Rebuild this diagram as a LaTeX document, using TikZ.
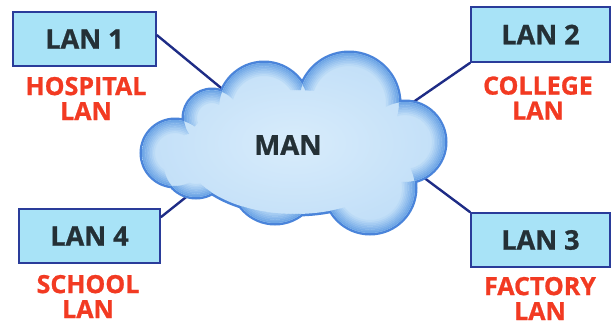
\documentclass[tikz,border=0pt]{standalone}
\usepackage{fontspec}
\setmainfont{Open Sans}[BoldFeatures={FakeBold=0.9}]
\definecolor{boxfill}{HTML}{A8E3F7}
\definecolor{boxline}{HTML}{2A3C9A}
\definecolor{wire}{HTML}{1E2C86}
\definecolor{labelred}{HTML}{F23A22}
\definecolor{darktext}{HTML}{243036}
\definecolor{cloudline}{HTML}{4A84DA}
\definecolor{cloudedge}{HTML}{6EA6E6}
\definecolor{cloudbase}{HTML}{C2DFF8}
\definecolor{cloudcore}{HTML}{D8ECFB}
\tikzset{
  lanbox/.style={draw=boxline, fill=boxfill, line width=1.5pt, inner sep=0pt,
    text=darktext, font=\fontsize{27}{27}\selectfont\bfseries},
  lanlabel/.style={text=labelred, align=center, inner sep=0pt,
    font=\fontsize{25}{25}\selectfont\bfseries},
  link/.style={draw=wire, line width=2.4pt},
  glowscope/.style={even odd rule}
}
% puffs of the cloud
\def\puffA{(175,153) circle[radius=33pt]}
\def\puffB{(212,118) circle[radius=28pt]}
\def\puffC{(264,108) circle[radius=45pt]}
\def\puffD{(349,103) circle[radius=50pt]}
\def\puffE{(405,142) circle[radius=40pt]}
\def\puffF{(370,188) circle[radius=45pt]}
\def\puffG{(275,180) circle[radius=43pt]}
\def\puffH{(196,165) circle[radius=32pt]}
\def\puffcore{(295,152) ellipse[x radius=110pt, y radius=62pt]}
\newcommand\cloudshape{\puffA \puffB \puffC \puffD \puffE \puffF \puffG \puffH \puffcore}
% keep drawing outside one puff (used in an even-odd scope)
\newcommand\cutout[1]{\clip (-50,-50) rectangle (700,400) #1;}
% darker rings just inside a puff's rim
\newcommand\rings[3]{%
  \foreach \k in {0,...,7}{%
    \pgfmathtruncatemacro\mixval{100-13*\k}%
    \draw[line width=1.8pt, cloudedge!\mixval!cloudbase]
      (#1,#2) circle[radius=#3pt-0.9pt-1.6pt*\k];
  }%
}
\begin{document}
\begin{tikzpicture}[x=1pt, y=-1pt]
\useasboundingbox (0,0) rectangle (611,325);

% LAN boxes
\node[lanbox, minimum width=143pt, minimum height=54pt] (lan1) at (84.5,39) {LAN 1};
\node[lanbox, minimum width=139pt, minimum height=55pt] (lan2) at (540.5,34.5) {LAN 2};
\node[lanbox, minimum width=139pt, minimum height=54pt] (lan3) at (540.5,240) {LAN 3};
\node[lanbox, minimum width=141pt, minimum height=54pt] (lan4) at (89.5,236) {LAN 4};

% captions
\node[lanlabel] (cap1) at (86,98.5) {HOSPITAL\\LAN};
\node[lanlabel] (cap2) at (538,98) {COLLEGE\\LAN};
\node[lanlabel] (cap3) at (540,298.5) {FACTORY\\LAN};
\node[lanlabel] (cap4) at (88,296.5) {SCHOOL\\LAN};

% attachment points on the cloud rim
\coordinate (c1) at (226,92);
\coordinate (c2) at (409,105);
\coordinate (c3) at (423,177);
\coordinate (c4) at (200,186);

% links
\draw[link] ([yshift=4pt]lan1.east) -- (c1);
\draw[link] (lan2.south west) -- (c2);
\draw[link] (lan3.north west) -- (c3);
\draw[link] ([yshift=-9pt]lan4.north east) -- (c4);

% cloud rim and body
\draw[cloudline, line width=5pt] \cloudshape;
\shade[inner color=cloudcore, outer color=cloudbase] \cloudshape;

% inner glow along the outer rim of each puff
\begin{scope}[glowscope]
  \cutout\puffB \cutout\puffC \cutout\puffH \cutout\puffcore
  \rings{175}{153}{33}
\end{scope}
\begin{scope}[glowscope]
  \cutout\puffA \cutout\puffC \cutout\puffH \cutout\puffcore
  \rings{212}{118}{28}
\end{scope}
\begin{scope}[glowscope]
  \cutout\puffB \cutout\puffD \cutout\puffA \cutout\puffcore
  \rings{264}{108}{45}
\end{scope}
\begin{scope}[glowscope]
  \cutout\puffC \cutout\puffE \cutout\puffcore
  \rings{349}{103}{50}
\end{scope}
\begin{scope}[glowscope]
  \cutout\puffD \cutout\puffF \cutout\puffcore
  \rings{405}{142}{40}
\end{scope}
\begin{scope}[glowscope]
  \cutout\puffE \cutout\puffG \cutout\puffD \cutout\puffcore
  \rings{370}{188}{45}
\end{scope}
\begin{scope}[glowscope]
  \cutout\puffF \cutout\puffH \cutout\puffcore
  \rings{275}{180}{43}
\end{scope}
\begin{scope}[glowscope]
  \cutout\puffA \cutout\puffG \cutout\puffB \cutout\puffcore
  \rings{196}{165}{32}
\end{scope}

\node[text=darktext, font=\fontsize{27.5}{27.5}\selectfont\bfseries, inner sep=0pt] (man) at (288,145) {MAN};
\end{tikzpicture}
\end{document}
